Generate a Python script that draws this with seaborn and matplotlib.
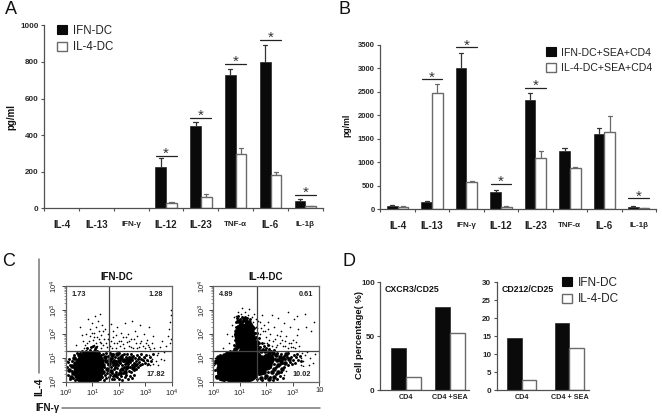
import numpy as np
import pandas as pd
import matplotlib
matplotlib.use('Agg')
import matplotlib.pyplot as plt
from matplotlib.patches import Patch
import seaborn as sns

# Panel A / B cytokines
cytokines = ['IL-4', 'IL-13', 'IFN-γ', 'IL-12', 'IL-23', 'TNF-α', 'IL-6', 'IL-1β']
a_ifn = [0, 0, 0, 225, 450, 730, 800, 40]
a_ifn_top = [0, 0, 0, 275, 470, 760, 893, 50]
a_il4 = [0, 0, 0, 30, 60, 297, 180, 10]
a_il4_top = [0, 0, 0, 37, 80, 332, 200, 12]
a_sig_pos = [3, 4, 5, 6, 7]
a_sig_y = [286, 492, 787, 920, 73]

b_ifn = [70, 150, 3000, 360, 2330, 1250, 1600, 55]
b_ifn_top = [95, 170, 3320, 420, 2480, 1310, 1720, 60]
b_il4 = [45, 2470, 580, 55, 1100, 870, 1640, 20]
b_il4_top = [60, 2660, 595, 60, 1230, 910, 1990, 25]
b_sig_pos = [1, 2, 3, 4, 7]
b_sig_y = [2763, 3443, 538, 2586, 234]

# Panel D
d_groups1 = ['CD4', 'CD4 +SEA']
d_groups2 = ['CD4', 'CD4 + SEA']
d1_ifn = [39.5, 77.5]
d1_il4 = [12, 53.5]
d2_ifn = [14.4, 18.8]
d2_il4 = [3, 11.7]

# Panel C, dots read by eye in log10 units (x, y)
c1_core = [(0.72, 0.58), (0.92, 0.6), (0.85, 0.78), (0.74, 0.4), (0.96, 0.4), (1.0, 0.8)]
c1_band = [(0.12, 0.5), (0.2, 0.2), (0.25, 0.65), (0.28, 0.38), (0.3, 1.0), (0.35, 0.8),
           (0.38, 0.55), (0.42, 0.25), (0.5, 1.1), (0.7, 1.2), (0.85, 1.22), (1.0, 1.2),
           (1.2, 1.15), (1.35, 0.95), (1.4, 0.7), (1.42, 0.4), (1.5, 1.05),
           (1.52, 0.85), (1.55, 0.55), (1.65, 0.72), (1.68, 0.95), (1.7, 0.45),
           (1.75, 1.1), (1.78, 0.82), (1.85, 0.3), (1.9, 0.72), (1.95, 1.15),
           (2.0, 0.88), (2.05, 0.38), (2.08, 1.05), (2.13, 0.55), (2.2, 0.92), (2.25, 0.42),
           (2.3, 0.82), (2.33, 0.6), (2.4, 0.9), (2.48, 1.0), (2.53, 0.58), (2.63, 0.68)]
c1_fine = [(0.05, 0.6), (0.08, 0.82), (0.1, 0.3), (0.14, 0.95), (0.16, 0.12), (0.18, 0.7), (0.22, 0.45), (0.24, 0.88),
           (0.27, 0.15), (0.31, 0.6), (0.33, 1.12), (0.36, 0.08), (0.4, 0.95), (0.44, 1.18), (0.47, 0.1), (0.55, 1.2),
           (0.6, 1.28), (0.65, 0.05), (0.75, 1.3), (0.78, 0.06), (0.9, 1.32), (0.95, 0.05), (1.05, 1.28), (1.1, 1.38),
           (1.12, 0.08), (1.18, 1.3), (1.25, 1.2), (1.28, 0.12), (1.3, 0.3), (1.32, 1.12), (1.36, 0.55), (1.38, 0.2),
           (1.41, 1.15), (1.44, 0.08), (1.46, 0.62), (1.47, 0.28), (1.49, 0.9), (1.51, 0.15), (1.53, 1.2), (1.56, 0.35),
           (1.58, 0.72), (1.6, 1.08), (1.61, 0.48), (1.63, 0.18), (1.66, 0.88), (1.67, 0.3), (1.69, 1.2), (1.71, 0.6),
           (1.73, 0.1), (1.74, 0.98), (1.76, 0.38), (1.77, 0.68), (1.79, 0.22), (1.8, 1.15), (1.81, 0.52), (1.83, 0.92),
           (1.84, 0.12), (1.86, 0.62), (1.87, 1.05), (1.89, 0.42), (1.91, 0.85), (1.93, 0.2), (1.94, 0.58), (1.96, 1.0),
           (1.97, 0.32), (1.99, 0.7), (2.01, 1.18), (2.02, 0.12), (2.04, 0.78), (2.06, 0.48), (2.07, 0.95), (2.09, 0.25),
           (2.11, 0.68), (2.12, 1.12), (2.14, 0.08), (2.16, 0.85), (2.17, 0.38), (2.19, 0.62), (2.21, 1.15), (2.22, 0.18),
           (2.24, 0.75), (2.26, 1.02), (2.27, 0.52), (2.29, 0.3), (2.31, 0.95), (2.32, 1.15), (2.34, 0.12), (2.36, 0.72),
           (2.37, 0.45), (2.39, 1.05), (2.41, 0.25), (2.42, 0.62), (2.44, 0.82), (2.46, 1.15), (2.47, 0.4), (2.49, 0.7),
           (2.51, 0.15), (2.52, 0.92), (2.54, 1.08), (2.56, 0.48), (2.58, 0.78), (2.59, 0.28), (2.61, 1.0), (2.64, 0.88),
           (2.66, 0.55), (2.68, 1.12), (2.7, 0.72), (2.72, 0.95), (2.74, 0.62), (2.76, 1.05), (2.78, 0.82), (2.8, 0.68),
           (2.83, 0.95), (2.86, 1.15), (2.89, 0.75), (2.92, 0.9), (2.96, 1.05), (3.0, 0.8), (3.04, 1.12), (3.08, 0.92),
           (3.12, 0.72), (3.18, 1.05), (3.22, 0.85), (3.28, 1.15), (0.8, 1.4), (0.95, 1.45), (1.02, 1.5), (1.15, 1.45)]
c1_sparse = [(0.4, 1.55), (0.55, 2.3), (0.65, 1.7), (0.7, 1.4), (0.75, 2.0), (0.8, 1.6), (0.85, 2.6), (0.9, 1.9),
             (0.92, 2.2), (0.95, 1.45), (1.0, 2.45), (1.02, 1.75), (1.05, 1.55), (1.08, 2.05), (1.1, 2.75), (1.12, 1.4),
             (1.15, 2.3), (1.18, 1.85), (1.2, 1.5), (1.22, 2.55), (1.25, 2.1), (1.28, 1.65), (1.3, 2.85), (1.32, 1.4),
             (1.35, 1.95), (1.38, 2.35), (1.4, 1.55), (1.45, 1.8), (1.5, 2.2), (1.55, 1.45), (1.6, 2.0), (1.7, 1.7),
             (1.72, 2.4), (1.75, 1.4), (1.8, 2.1), (1.82, 1.6), (1.88, 1.95), (1.9, 1.42), (1.95, 2.3), (2.0, 1.7),
             (2.05, 1.5), (2.1, 2.05), (2.15, 1.85), (2.2, 1.4), (2.25, 2.45), (2.3, 1.65), (2.35, 2.0), (2.4, 1.5),
             (2.45, 1.8), (2.5, 2.55), (2.55, 1.4), (2.6, 2.1), (2.65, 1.6), (2.7, 1.9), (2.75, 1.45), (2.8, 2.35),
             (2.85, 1.7), (2.9, 1.5), (2.95, 2.0), (3.0, 1.4), (3.05, 1.75), (3.1, 1.55), (3.15, 2.3), (3.2, 1.35),
             (3.25, 1.6), (3.3, 1.9), (3.35, 1.42), (3.4, 0.4), (3.45, 1.1), (3.5, 0.7), (3.55, 1.45), (3.6, 0.95),
             (3.62, 1.7), (3.68, 0.5), (3.72, 1.25), (3.8, 1.5), (3.85, 1.9), (3.9, 2.2), (3.92, 1.6), (3.95, 2.5),
             (3.96, 1.8), (3.97, 2.8), (3.98, 3.0), (3.1, 0.85), (3.15, 1.1), (3.2, 0.7), (3.25, 0.95), (3.3, 0.75),
             (3.0, 1.0), (3.05, 0.7), (2.95, 0.85), (0.04, 0.85), (0.5, 0.05), (3.4, 0.85), (3.5, 1.2), (3.7, 0.9),
             (0.6, 1.95), (0.72, 1.55), (0.88, 1.72), (0.98, 2.05), (1.06, 1.85), (1.14, 1.62), (1.24, 1.78), (1.34, 1.6),
             (1.42, 2.1), (1.52, 1.62), (1.58, 1.78), (1.66, 1.5), (1.78, 1.85), (1.92, 1.62), (2.08, 1.7), (2.18, 1.58),
             (2.28, 1.85), (2.38, 1.72), (2.48, 1.45), (2.58, 1.78), (2.68, 1.42), (2.82, 1.6), (3.02, 1.6), (3.14, 1.45)]

c2_core = [(0.68, 0.5), (0.95, 0.45), (0.85, 0.75), (1.15, 0.68), (1.25, 0.95), (1.42, 0.85), (0.6, 0.72), (1.28, 0.5)]
c2_blob = [(1.2, 1.4), (1.25, 1.7), (1.2, 2.0), (1.05, 1.65), (1.35, 1.85), (1.1, 2.2), (1.3, 2.2), (1.0, 1.95),
           (1.5, 1.45), (1.8, 0.85), (2.0, 0.72), (1.75, 0.55), (2.05, 0.95), (0.32, 0.55), (0.34, 0.85), (0.35, 0.28)]
c2_band = [(0.12, 0.85), (0.15, 0.2), (0.18, 1.05), (0.2, 0.65), (0.22, 0.35), (0.4, 1.1), (0.55, 1.2),
           (0.7, 1.2), (0.85, 1.25), (0.9, 1.5), (0.88, 1.85), (0.92, 2.3), (0.95, 2.55), (1.05, 2.5), (1.15, 2.6),
           (1.25, 2.55), (1.35, 2.5), (1.45, 2.3), (1.5, 2.05), (1.55, 1.8), (1.65, 1.65), (1.7, 1.4), (1.8, 1.3),
           (1.95, 1.3), (2.1, 1.25), (2.25, 1.2), (2.35, 1.1), (2.4, 0.9), (2.45, 0.7), (2.5, 1.05), (2.55, 0.85),
           (2.3, 0.55), (2.2, 0.4), (2.0, 0.25), (1.8, 0.15), (1.9, 0.4), (2.1, 0.1), (2.3, 0.2), (2.45, 0.4),
           (2.6, 0.55), (2.62, 1.0), (2.7, 0.8), (2.75, 1.15), (2.85, 0.95), (0.85, 2.1), (0.8, 1.35)]
c2_fine = [(0.05, 0.5), (0.08, 0.78), (0.1, 0.25), (0.13, 1.0), (0.16, 0.5), (0.19, 0.85), (0.24, 1.12), (0.27, 0.12),
           (0.42, 0.06), (0.48, 1.2), (0.62, 1.28), (0.75, 1.3), (0.78, 1.55), (0.8, 1.75), (0.82, 2.0), (0.84, 2.3),
           (0.86, 2.5), (0.88, 1.4), (0.9, 2.65), (0.94, 2.75), (1.0, 2.62), (1.02, 2.42), (1.08, 2.7), (1.12, 2.55),
           (1.18, 2.72), (1.22, 2.45), (1.28, 2.65), (1.32, 2.4), (1.38, 2.6), (1.42, 2.4), (1.45, 2.15), (1.48, 1.9),
           (1.52, 2.25), (1.56, 2.05), (1.58, 1.65), (1.62, 1.85), (1.66, 2.05), (1.72, 1.6), (1.74, 1.82), (1.78, 1.45),
           (1.84, 1.62), (1.88, 1.38), (1.92, 1.48), (2.0, 1.4), (2.05, 1.52), (2.12, 1.38), (2.18, 1.3), (2.28, 1.32),
           (2.32, 0.95), (2.38, 0.62), (2.42, 1.18), (2.47, 0.9), (2.52, 0.72), (2.57, 1.15), (2.6, 0.8), (2.65, 1.08),
           (2.68, 0.62), (2.72, 0.95), (2.78, 1.05), (2.8, 0.7), (2.82, 1.18), (2.88, 0.82), (2.92, 1.02), (2.96, 0.72),
           (3.0, 0.9), (3.04, 1.1), (3.08, 0.8), (3.12, 1.02), (3.16, 1.15), (3.2, 0.92), (3.26, 1.08), (3.32, 0.85),
           (1.6, 0.25), (1.65, 0.1), (1.72, 0.32), (1.85, 0.08), (1.95, 0.15), (2.05, 0.42), (2.15, 0.18), (2.25, 0.08),
           (2.35, 0.32), (2.4, 0.12), (2.5, 0.25), (2.55, 0.42), (2.62, 0.15), (2.15, 0.6), (2.28, 0.72), (2.22, 0.9)]
c2_sparse = [(0.35, 1.4), (0.5, 2.0), (0.6, 1.6), (0.7, 1.9), (0.72, 2.35), (0.78, 2.7), (0.85, 2.75), (0.95, 2.9),
             (1.05, 2.82), (1.1, 3.1), (1.2, 2.9), (1.3, 2.8), (1.35, 3.05), (1.45, 2.7), (1.5, 2.5), (1.55, 2.85),
             (1.6, 2.3), (1.65, 2.25), (1.7, 2.55), (1.75, 2.0), (1.8, 2.25), (1.85, 2.8), (1.9, 1.6), (1.95, 2.1),
             (2.0, 1.85), (2.05, 2.5), (2.1, 1.55), (2.15, 2.0), (2.2, 2.8), (2.25, 1.7), (2.3, 2.3), (2.35, 1.45),
             (2.4, 1.95), (2.45, 2.65), (2.5, 1.6), (2.55, 2.1), (2.6, 1.75), (2.65, 2.45), (2.7, 1.5), (2.75, 1.9),
             (2.8, 2.9), (2.85, 1.6), (2.9, 2.3), (2.95, 1.45), (3.0, 1.75), (3.05, 2.6), (3.1, 1.4), (3.15, 1.95),
             (3.2, 2.2), (3.25, 1.3), (3.3, 1.0), (3.35, 1.2), (3.4, 0.85), (3.45, 1.1), (3.5, 2.3), (3.55, 1.25),
             (3.6, 0.7), (3.65, 1.0), (3.7, 2.1), (3.75, 0.8), (3.8, 2.5), (3.85, 1.15), (3.3, 0.7), (3.4, 0.65),
             (0.03, 0.7), (0.06, 1.0), (3.15, 2.75), (3.45, 2.85), (2.65, 0.3), (2.75, 0.45), (1.88, 2.1), (2.02, 1.6),
             (2.12, 1.75), (2.22, 1.5), (2.32, 1.8), (2.42, 1.55), (2.52, 1.9), (2.62, 1.48), (2.72, 1.7), (2.82, 1.42),
             (2.92, 1.62), (3.02, 1.45), (3.12, 1.68), (3.22, 1.5), (1.62, 2.6), (1.78, 2.5), (1.92, 2.35), (2.08, 2.2)]

W, H = 662, 417
BLACK = '#0a0a0a'
EDGE = '#6a6a6a'
AXIS = '#505050'

sns.set_theme(style='white')
plt.rcParams['font.family'] = ['Liberation Sans', 'DejaVu Sans']
fig = plt.figure(figsize=(W / 100, H / 100), dpi=100)


def add_axes(left, right, top, bottom):
    return fig.add_axes([left / W, 1 - bottom / H, (right - left) / W, (bottom - top) / H])


def fig_text(x, y, s, **kw):
    kw.setdefault('va', 'center')
    kw.setdefault('color', '#111111')
    fig.text(x / W, 1 - y / H, s, **kw)


def draw_bars(ax, labels, first, second, names, width):
    df = pd.DataFrame({
        'label': labels * 2,
        'value': first + second,
        'group': [names[0]] * len(labels) + [names[1]] * len(labels),
    })
    sns.barplot(data=df, x='label', y='value', hue='group', order=labels, hue_order=names,
                palette=[BLACK, 'white'], width=width, gap=0, dodge=True, legend=False,
                errorbar=None, saturation=1, ax=ax)
    for patch in ax.containers[0]:
        patch.set_edgecolor(BLACK)
        patch.set_linewidth(0.4)
    for patch in ax.containers[1]:
        patch.set_edgecolor(EDGE)
        patch.set_linewidth(1.0)
    for bars in ax.containers:
        for patch in bars:
            if patch.get_height() == 0:
                patch.set_visible(False)
    ax.set_xlabel('')
    ax.set_ylabel('')
    for side in ['top', 'right']:
        ax.spines[side].set_visible(False)
    for side in ['left', 'bottom']:
        ax.spines[side].set_color(AXIS)
        ax.spines[side].set_linewidth(0.9)


def draw_errors(ax, values, tops, container, color):
    for patch, v, t in zip(container, values, tops):
        if t <= v:
            continue
        cx = patch.get_x() + patch.get_width() / 2
        ax.plot([cx, cx], [v, t], color=color, lw=0.9, solid_capstyle='butt')
        ax.plot([cx - 0.06, cx + 0.06], [t, t], color=color, lw=0.9)


def draw_sig(ax, positions, heights, dy):
    for pos, y in zip(positions, heights):
        ax.plot([pos - 0.3, pos + 0.3], [y, y], color='#222222', lw=0.9)
        ax.text(pos, y - dy, '*', ha='center', va='center', fontsize=11, color='#333333')


def cytokine_panel(ax, first, first_top, second, second_top, names, ymax, yticks, sig_pos, sig_y, dy, tick_fs):
    draw_bars(ax, cytokines, first, second, names, 0.62)
    draw_errors(ax, first, first_top, ax.containers[0], '#333333')
    draw_errors(ax, second, second_top, ax.containers[1], EDGE)
    draw_sig(ax, sig_pos, sig_y, dy)
    ax.set_xlim(-0.5, 7.5)
    ax.set_ylim(0, ymax)
    ax.set_yticks(yticks)
    ax.set_xticks(np.arange(8))
    ax.set_xticks(np.arange(-0.5, 8), minor=True)
    ax.tick_params(axis='x', which='minor', length=2.5, width=0.8, color=AXIS, bottom=True)
    ax.tick_params(axis='y', length=2.5, width=0.8, color=AXIS, left=True, pad=1.5)
    for lab in ax.get_yticklabels():
        lab.set_fontsize(tick_fs)
        lab.set_fontweight('bold')
    for lab, fs in zip(ax.get_xticklabels(), [7, 7, 5.8, 7, 7, 5.8, 7, 5.8]):
        lab.set_fontsize(fs)
        lab.set_fontweight('bold')
        lab.set_color('#222222')
        lab.set_va('center')
    ax.tick_params(axis='x', which='major', length=0, pad=12)


def place_legend(ax, names, x, y, fs, spacing, text_gap):
    em = fs * 100 / 72
    handles = [Patch(facecolor=BLACK, edgecolor=BLACK, linewidth=0.8),
               Patch(facecolor='white', edgecolor=EDGE, linewidth=1.0)]
    ax.legend(handles, names, loc='upper left', bbox_to_anchor=(x / W, 1 - y / H),
              bbox_transform=fig.transFigure, frameon=False, fontsize=fs, borderaxespad=0, borderpad=0,
              handlelength=9.5 / em, handleheight=9.5 / em, handletextpad=text_gap / em, labelspacing=spacing,
              labelcolor='#222222')


def flow_panel(ax, core, blob, band, fine, sparse, box):
    layers = [(sparse, 1.4), (fine, 4.5), (band, 11), (blob, 80), (core, 290)]
    for points, size in layers:
        if not points:
            continue
        pts = pd.DataFrame(points, columns=['x', 'y'])
        sns.scatterplot(x=10 ** pts['x'], y=10 ** pts['y'], s=size, color='black', linewidth=0, ax=ax, legend=False)
    ax.set_xscale('log')
    ax.set_yscale('log')
    ax.set_xlim(1, 1e4)
    ax.set_ylim(1, 1e4)
    ax.axvline(10 ** 1.65, color='#444444', lw=0.9)
    ax.axhline(10 ** 1.28, color='#444444', lw=0.9)
    ax.add_patch(plt.Rectangle(box[:2], box[2], box[3], transform=ax.transAxes, facecolor='white',
                               edgecolor='none', zorder=3))
    ax.set_xlabel('')
    ax.set_ylabel('')
    for spine in ax.spines.values():
        spine.set_color('#666666')
        spine.set_linewidth(0.9)
    ax.tick_params(axis='both', which='major', length=3, width=0.7, color='#444444', labelsize=5.5,
                   left=True, bottom=True, pad=1, labelcolor='#222222')
    ax.tick_params(axis='both', which='minor', length=1.5, width=0.4, color='#444444', left=True, bottom=True)


# Panel A
ax_a = add_axes(44.3, 322.7, 25.3, 208.3)
cytokine_panel(ax_a, a_ifn, a_ifn_top, a_il4, a_il4_top, ['IFN-DC', 'IL-4-DC'], 1000,
               [0, 200, 400, 600, 800, 1000], a_sig_pos, a_sig_y, -12, 5.8)
place_legend(ax_a, ['IFN-DC', 'IL-4-DC'], 57, 24.5, 8.3, 0.42, 7)
fig_text(11, 117, 'pg/ml', rotation=90, ha='center', fontsize=7, fontweight='bold')

# Panel B
ax_b = add_axes(380.3, 656, 44.7, 209.3)
cytokine_panel(ax_b, b_ifn, b_ifn_top, b_il4, b_il4_top, ['IFN-DC+SEA+CD4', 'IL-4-DC+SEA+CD4'], 3500,
               [0, 500, 1000, 1500, 2000, 2500, 3000, 3500], b_sig_pos, b_sig_y, -42, 5.5)
place_legend(ax_b, ['IFN-DC+SEA+CD4', 'IL-4-DC+SEA+CD4'], 546, 47.5, 7.6, 0.5, 5)
fig_text(347, 125, 'pg/ml', rotation=90, ha='center', fontsize=6.2, fontweight='bold')

# Panel C
ax_c1 = add_axes(65.7, 171.7, 286, 381.7)
flow_panel(ax_c1, c1_core, [], c1_band, c1_fine, c1_sparse, (0.71, 0.005, 0.28, 0.145))
ax_c1.set_xticks([1, 10, 100, 1000, 10000])
ax_c1.set_yticks([1, 10, 100, 1000, 10000])
ax_c2 = add_axes(213.3, 319.3, 286, 381.7)
flow_panel(ax_c2, c2_core, c2_blob, c2_band, c2_fine, c2_sparse, (0.70, 0.005, 0.29, 0.15))
ax_c2.set_xticks([1, 10, 100, 1000, 10000])
ax_c2.set_xticklabels(['$\\mathdefault{10^{0}}$', '$\\mathdefault{10^{1}}$', '$\\mathdefault{10^{2}}$',
                       '$\\mathdefault{10^{3}}$', '10'])
ax_c2.set_yticks([1, 10, 100, 1000, 10000])
for ax in [ax_c1, ax_c2]:
    for lab in ax.get_yticklabels():
        lab.set_rotation(90)
        lab.set_va('center')

flow_numbers = [(ax_c1, 0.12, 0.91, '1.73'), (ax_c1, 0.85, 0.91, '1.28'), (ax_c1, 0.85, 0.077, '17.82'),
                (ax_c2, 0.126, 0.91, '4.89'), (ax_c2, 0.874, 0.91, '0.61'), (ax_c2, 0.833, 0.08, '10.02')]
for ax, x, y, s in flow_numbers:
    ax.text(x, y, s, transform=ax.transAxes, ha='center', va='center', fontsize=5.3, fontweight='bold',
            color='#222222', zorder=5)

fig_text(117, 276.5, 'IFN-DC', ha='center', fontsize=7, fontweight='bold')
fig_text(266, 276.5, 'IL-4-DC', ha='center', fontsize=7, fontweight='bold')
fig_text(39, 387, 'IL-4', rotation=90, ha='center', fontsize=7.5, fontweight='bold')
fig_text(35, 408, 'IFN-γ', ha='left', fontsize=7, fontweight='bold')
fig.add_artist(plt.Line2D([38.7 / W, 38.7 / W], [1 - 259 / H, 1 - 373 / H], color='#777777', lw=1.1))
fig.add_artist(plt.Line2D([62 / W, 320 / W], [1 - 408 / H, 1 - 408 / H], color='#777777', lw=1.1))

# Panel D
for ax, groups, first, second, width, xlim, ymax, yticks in [
    (add_axes(380.3, 469, 282.3, 390.3), d_groups1, d1_ifn, d1_il4, 0.68, (-0.583, 1.44), 100, [0, 50, 100]),
    (add_axes(496.7, 589, 282.3, 390.3), d_groups2, d2_ifn, d2_il4, 0.62, (-0.52, 1.41), 30, [0, 5, 10, 15, 20, 25, 30]),
]:
    draw_bars(ax, groups, first, second, ['IFN-DC', 'IL-4-DC'], width)
    ax.set_xlim(*xlim)
    ax.set_ylim(0, ymax)
    ax.set_yticks(yticks)
    ax.tick_params(axis='x', length=0, pad=3)
    ax.tick_params(axis='y', length=2.5, width=0.8, color=AXIS, left=True, pad=1.5)
    for lab in ax.get_xticklabels():
        lab.set_fontsize(5.2)
        lab.set_fontweight('bold')
        lab.set_color('#222222')
    for lab in ax.get_yticklabels():
        lab.set_fontsize(5.8)
        lab.set_fontweight('bold')
    d_last = ax

place_legend(d_last, ['IFN-DC', 'IL-4-DC'], 562, 276.5, 8.5, 0.42, 6)
fig_text(385, 289, 'CXCR3/CD25', ha='left', fontsize=6.3, fontweight='bold')
fig_text(501.5, 289, 'CD212/CD25', ha='left', fontsize=6.3, fontweight='bold')
fig_text(359.5, 335, 'Cell percentage( %)', rotation=90, ha='center', fontsize=6.8, fontweight='bold')

# Panel letters
for x, y, s in [(5, 10, 'A'), (338, 10, 'B'), (2, 262, 'C'), (342, 262, 'D')]:
    fig_text(x, y, s, ha='left', fontsize=13)

fig.savefig('out.png', dpi=100)
